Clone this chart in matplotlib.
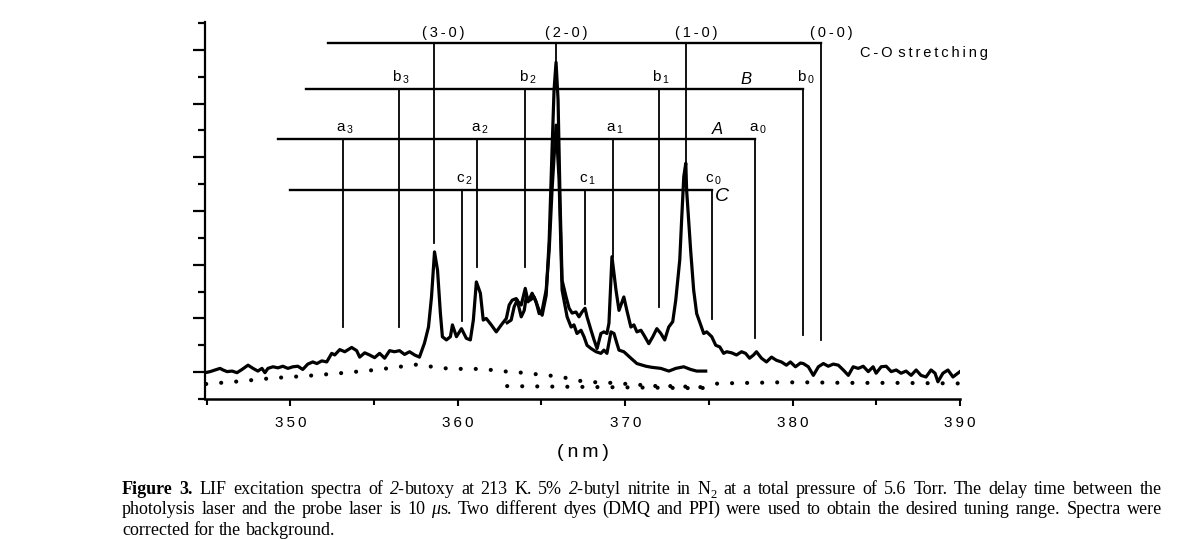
import numpy as np
import matplotlib.pyplot as plt
from matplotlib.ticker import MultipleLocator
from matplotlib.transforms import IdentityTransform

plt.rcParams['font.family'] = ['Liberation Sans', 'DejaVu Sans']
plt.rcParams['mathtext.default'] = 'regular'

# LIF spectrum taken with the DMQ dye (short wavelength part)
dmq_nm = [344.91, 345.21, 345.50, 345.80, 345.98, 346.22, 346.52, 346.81, 347.11, 347.47,
          347.77, 348.06, 348.30, 348.48, 348.66, 348.96, 349.26, 349.55, 349.85, 350.15,
          350.45, 350.74, 351.04, 351.34, 351.58, 351.88, 352.17, 352.47, 352.65, 352.95,
          353.25, 353.66, 353.96, 354.14, 354.44, 354.73, 355.03, 355.33, 355.63, 355.93,
          356.22, 356.52, 356.82, 357.12, 357.42, 357.71, 358.01, 358.25, 358.43, 358.61,
          358.79, 358.96, 359.08, 359.32, 359.56, 359.68, 359.92, 360.22, 360.51, 360.75,
          360.93, 361.11, 361.35, 361.52, 361.70, 362.00, 362.30, 362.60, 362.90, 363.07,
          363.25, 363.49, 363.61, 363.79, 364.03, 364.20, 364.44, 364.68, 364.86, 365.04,
          365.28, 365.46, 365.63, 365.87, 366.05, 366.23, 366.53, 366.77, 366.94, 367.12,
          367.36, 367.54, 367.72, 367.96, 368.26, 368.55, 368.73, 368.91, 369.15, 369.33,
          369.51, 369.63, 369.92, 370.34, 370.70, 371.24, 371.59, 372.13, 372.61, 373.02,
          373.50, 373.91, 374.27, 374.81]
dmq_int = [-0.01, 0.01, 0.04, 0.07, 0.04, 0.01, 0.02, -0.01, 0.05, 0.13,
           0.07, 0.02, 0.07, -0.01, 0.07, 0.10, 0.08, 0.11, 0.07, 0.10,
           0.11, 0.05, 0.15, 0.19, 0.16, 0.21, 0.19, 0.35, 0.32, 0.42,
           0.38, 0.46, 0.40, 0.28, 0.36, 0.32, 0.27, 0.35, 0.26, 0.40,
           0.38, 0.40, 0.33, 0.38, 0.32, 0.28, 0.54, 0.84, 1.40, 2.24,
           1.90, 1.10, 0.66, 0.60, 0.66, 0.88, 0.66, 0.81, 0.63, 0.60,
           0.97, 1.68, 1.47, 0.97, 1.00, 0.88, 0.75, 0.88, 1.00, 1.25,
           1.34, 1.37, 1.31, 1.25, 1.56, 1.31, 1.47, 1.31, 1.09, 1.15,
           1.53, 2.27, 3.39, 4.60, 3.58, 1.53, 1.03, 0.84, 0.88, 0.72,
           0.78, 0.66, 0.50, 0.44, 0.38, 0.35, 0.41, 0.35, 0.75, 0.72,
           0.53, 0.41, 0.38, 0.26, 0.16, 0.11, 0.09, 0.07, 0.02, 0.07,
           0.10, 0.05, 0.02, 0.02]

# LIF spectrum taken with the PPI dye (long wavelength part)
ppi_nm = [362.95, 363.19, 363.37, 363.55, 363.79, 363.97, 364.09, 364.32, 364.56, 364.86,
          365.04, 365.28, 365.46, 365.63, 365.75, 365.87, 365.99, 366.11, 366.23, 366.47,
          366.65, 366.83, 367.06, 367.24, 367.42, 367.60, 367.72, 367.96, 368.14, 368.32,
          368.55, 368.73, 368.91, 369.03, 369.21, 369.45, 369.63, 369.92, 370.10, 370.34,
          370.52, 370.70, 370.94, 371.12, 371.41, 371.65, 371.89, 372.13, 372.36, 372.60,
          372.84, 373.02, 373.26, 373.38, 373.50, 373.62, 373.67, 373.91, 374.09, 374.27,
          374.51, 374.69, 374.87, 375.17, 375.41, 375.65, 375.88, 376.06, 376.36, 376.65,
          376.95, 377.19, 377.43, 377.67, 377.84, 378.14, 378.44, 378.74, 379.04, 379.33,
          379.63, 379.87, 380.17, 380.47, 380.64, 380.94, 381.24, 381.54, 381.84, 382.13,
          382.43, 382.73, 383.03, 383.33, 383.62, 383.92, 384.22, 384.52, 384.81, 384.99,
          385.29, 385.59, 385.89, 386.19, 386.48, 386.78, 387.08, 387.38, 387.67, 387.97,
          388.27, 388.51, 388.68, 388.98, 389.28, 389.58, 389.87, 390.0]
ppi_int = [0.92, 0.97, 1.22, 1.34, 1.03, 1.15, 1.40, 1.34, 1.40, 1.15,
           1.06, 1.43, 2.46, 4.13, 5.25, 5.77, 5.07, 3.20, 1.71, 1.40,
           1.19, 1.10, 1.12, 1.03, 1.12, 1.19, 1.03, 0.78, 0.60, 0.44,
           0.72, 0.75, 0.72, 0.91, 2.15, 1.53, 1.15, 1.40, 1.15, 0.84,
           0.88, 0.75, 0.78, 0.69, 0.53, 0.66, 0.81, 0.72, 0.60, 0.84,
           0.94, 1.34, 2.09, 2.89, 3.64, 3.89, 3.39, 2.27, 1.53, 1.09,
           0.88, 0.72, 0.75, 0.66, 0.50, 0.47, 0.35, 0.38, 0.36, 0.32,
           0.38, 0.35, 0.26, 0.32, 0.38, 0.26, 0.19, 0.28, 0.22, 0.19,
           0.13, 0.19, 0.10, 0.17, 0.16, 0.10, -0.06, 0.10, 0.16, 0.11,
           0.15, 0.13, 0.04, -0.06, 0.10, 0.07, 0.11, 0.01, 0.10, -0.02,
           0.10, 0.11, 0.01, 0.04, -0.02, 0.02, -0.06, 0.04, -0.06, -0.09,
           0.04, -0.02, -0.18, -0.02, 0.04, -0.09, -0.02, 0.01]

# backgrounds (dotted)
dmq_bg_nm = [344.97, 346.99, 348.96, 350.98, 352.95, 355.03, 357.53, 358.49, 359.32, 360.27,
             361.11, 362.06, 362.95, 363.85, 364.74, 365.69, 366.53, 367.42, 368.32, 369.21,
             370.10, 370.99, 371.89, 372.78, 373.67, 374.57]
dmq_bg_int = [-0.22, -0.17, -0.11, -0.07, -0.02, 0.04, 0.14, 0.10, 0.07, 0.06,
              0.06, 0.04, 0.01, -0.01, -0.04, -0.07, -0.11, -0.17, -0.19, -0.20,
              -0.22, -0.24, -0.26, -0.26, -0.27, -0.28]
ppi_bg_nm = [362.95, 366.0, 369.0, 372.0, 374.57, 375.53, 377.37, 379.16, 380.94, 383.33, 386.30, 389.87]
ppi_bg_int = [-0.26, -0.27, -0.28, -0.29, -0.30, -0.21, -0.20, -0.19, -0.19, -0.20, -0.20, -0.21]

# assignment combs: C-O stretching, B, A, C progressions
co_labels = ['(3-0)', '(2-0)', '(1-0)', '(0-0)']
co_nm = [358.55, 365.87, 373.62, 381.72]
co_end = [2.40, 5.78, 3.89, 0.60]
co_level, co_start = 6.13, 352.23

b_labels = ['3', '2', '1', '0']
b_nm = [356.46, 364.02, 372.00, 380.64]
b_end = [0.84, 1.96, 1.21, 0.69]
b_level, b_start = 5.27, 350.92

a_labels = ['3', '2', '1', '0']
a_nm = [353.13, 361.17, 369.27, 377.78]
a_end = [0.84, 1.96, 2.14, 0.63]
a_level, a_start = 4.34, 349.26

c_labels = ['2', '1', '0']
c_nm = [360.27, 367.60, 375.16]
c_end = [0.96, 1.27, 0.99]
c_level, c_start = 3.39, 349.97

x_ticks = [350, 360, 370, 380, 390]


def spaced(s):
    return '\u2009'.join(s)


fig = plt.figure(figsize=(11.88, 5.4), dpi=100)
ax = fig.add_axes([205 / 1188, 1 - 399 / 540, 755 / 1188, 377 / 540])

# spectra
ax.plot(dmq_nm, dmq_int, color='black', lw=2.3, solid_joinstyle='round', zorder=3)
ax.plot(ppi_nm, ppi_int, color='black', lw=2.3, solid_joinstyle='round', zorder=3)
ax.plot(dmq_bg_nm, dmq_bg_int, color='black', lw=3.0, ls=(0, (0.01, 3.6)),
        dash_capstyle='round', zorder=3)
ax.plot(ppi_bg_nm, ppi_bg_int, color='black', lw=3.0, ls=(0, (0.01, 3.6)),
        dash_capstyle='round', zorder=3)


def comb(xs, ends, level, start, lw_h=1.7):
    ax.plot([start, max(xs)], [level, level], color='black', lw=lw_h, zorder=2)
    for x, e in zip(xs, ends):
        ax.plot([x, x], [level, e], color='black', lw=1.3, zorder=2)


comb(co_nm, co_end, co_level, co_start)
comb(b_nm, b_end, b_level, b_start)
comb(a_nm, a_end, a_level, a_start)
comb(c_nm, c_end, c_level, c_start)

for lab, x in zip(co_labels, co_nm):
    ax.text(x + 0.6, co_level + 0.05, spaced(lab), ha='center', va='bottom', fontsize=10.5)
ax.text(384.04, 5.94, spaced('C-O') + '\u2009\u2009' + spaced('stretching'),
        ha='left', va='center', fontsize=10.5)

for letter, labs, xs, level in [('b', b_labels, b_nm, b_level),
                                ('a', a_labels, a_nm, a_level),
                                ('c', c_labels, c_nm, c_level)]:
    for lab, x in zip(labs, xs):
        ax.text(x + 0.15, level + 0.05, letter + '$_{\u2009' + lab + '}$',
                ha='center', va='bottom', fontsize=11)

ax.text(377.2, 5.45, 'B', style='italic', ha='center', va='center', fontsize=12)
ax.text(375.5, 4.52, 'A', style='italic', ha='center', va='center', fontsize=12)
ax.text(375.8, 3.28, 'C', style='italic', ha='center', va='center', fontsize=14)

ax.set_xlim(344.9, 390)
ax.set_ylim(-0.5, 6.52)
ax.spines['top'].set_visible(False)
ax.spines['right'].set_visible(False)
ax.spines['left'].set_linewidth(1.6)
ax.spines['bottom'].set_linewidth(1.8)

ax.set_xticks(x_ticks, labels=[spaced(str(t)) for t in x_ticks])
ax.xaxis.set_minor_locator(MultipleLocator(5))
ax.yaxis.set_major_locator(MultipleLocator(1))
ax.yaxis.set_minor_locator(MultipleLocator(0.5))
ax.tick_params(axis='x', which='major', direction='out', length=5, width=1.5,
               labelsize=11, pad=7)
ax.tick_params(axis='x', which='minor', direction='out', length=4, width=1.5)
ax.tick_params(axis='y', which='major', direction='out', length=9, width=1.6, labelleft=False)
ax.tick_params(axis='y', which='minor', direction='out', length=5, width=1.6)
ax.set_xlabel(spaced('(nm)'), fontsize=14, labelpad=10)

# caption, justified like the journal page
SERIF = ['Liberation Serif', 'DejaVu Serif']
BOLD = {'weight': 'bold'}
ITAL = {'style': 'italic'}
SUB = {'scale': 0.7, 'dy': -4}


def plain(s):
    return [[(w, {})] for w in s.split()]


def caption_line(words, y, x0=122, x1=1162, size=13, justify=True):
    r = fig.canvas.get_renderer()
    items, widths = [], []
    for word in words:
        parts, w = [], 0
        for txt, kw in word:
            t = fig.text(0, 0, txt, transform=IdentityTransform(), family=SERIF,
                         fontsize=size * kw.get('scale', 1), weight=kw.get('weight', 'normal'),
                         style=kw.get('style', 'normal'), va='baseline', ha='left')
            parts.append((t, w, kw.get('dy', 0)))
            w += t.get_window_extent(r).width
        items.append(parts)
        widths.append(w)
    if justify:
        gap = (x1 - x0 - sum(widths)) / (len(words) - 1)
    else:
        gap = size * 100 / 72 * 0.25
    x = x0
    for parts, w in zip(items, widths):
        for t, off, dy in parts:
            t.set_position((x + off, y + dy))
        x += w + gap


line1 = ([[('Figure', BOLD)], [('3.', BOLD)]] + plain('LIF excitation spectra of')
         + [[('2-', ITAL), ('butoxy', {})]] + plain('at 213 K. 5%')
         + [[('2-', ITAL), ('butyl', {})]] + plain('nitrite in')
         + [[('N', {}), ('2', SUB)]]
         + plain('at a total pressure of 5.6 Torr. The delay time between the'))
line2 = (plain('photolysis laser and the probe laser is 10') + [[('\u03bc', ITAL), ('s.', {})]]
         + plain('Two different dyes (DMQ and PPI) were used to obtain the desired '
                 'tuning range. Spectra were'))
line3 = plain('corrected for the background.')

caption_line(line1, 540 - 494)
caption_line(line2, 540 - 514)
caption_line(line3, 540 - 535, justify=False)

fig.savefig('out.png', dpi=100)
